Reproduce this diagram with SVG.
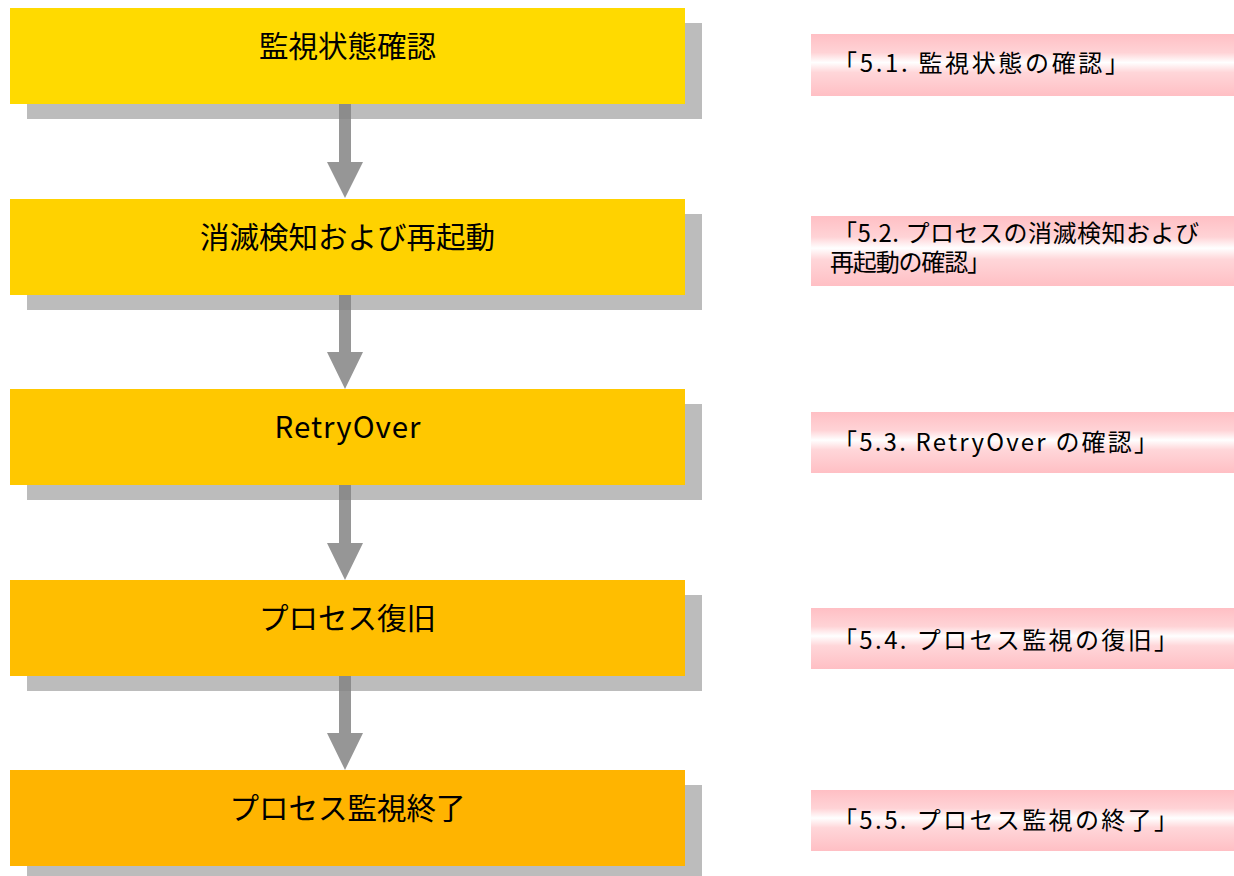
<svg xmlns="http://www.w3.org/2000/svg" width="1234" height="876" viewBox="0 0 1234 876">
<style>
.shadow{fill:#bcbcbc}
.main{font-family:"Noto Sans CJK JP","Noto Sans",sans-serif;font-size:29.5px;fill:#000;text-anchor:middle}
.ref{font-family:"Noto Sans CJK JP","Noto Sans",sans-serif;font-size:24px;fill:#000}
.arrow{fill:#848484;fill-opacity:0.85}
.pink{fill:url(#pinkGrad)}
</style>
<defs>
<linearGradient id="pinkGrad" x1="0" y1="0" x2="0" y2="1">
<stop offset="0" stop-color="#ffbfc4"/>
<stop offset="0.3" stop-color="#ffd3d6"/>
<stop offset="0.46" stop-color="#ffffff"/>
<stop offset="0.62" stop-color="#ffd6d9"/>
<stop offset="1" stop-color="#ffbfc4"/>
</linearGradient>
</defs>
<rect width="1234" height="876" fill="#ffffff"/>
<g id="node1">
<rect class="shadow" x="27" y="23" width="675" height="96"/>
<rect x="10" y="8" width="675" height="96" fill="#ffda00"/>
<text class="main" x="347.5" y="57">監視状態確認</text>
</g>
<g id="node2">
<rect class="shadow" x="27" y="214" width="675" height="96"/>
<rect x="10" y="199" width="675" height="96" fill="#ffd200"/>
<text class="main" x="347.5" y="248">消滅検知および再起動</text>
</g>
<g id="node3">
<rect class="shadow" x="27" y="404" width="675" height="96"/>
<rect x="10" y="389" width="675" height="96" fill="#ffc800"/>
<text class="main" x="347.5" y="438" textLength="146" lengthAdjust="spacing">RetryOver</text>
</g>
<g id="node4">
<rect class="shadow" x="27" y="595" width="675" height="96"/>
<rect x="10" y="580" width="675" height="96" fill="#ffbe00"/>
<text class="main" x="347.5" y="629">プロセス復旧</text>
</g>
<g id="node5">
<rect class="shadow" x="27" y="785" width="675" height="96"/>
<rect x="10" y="770" width="675" height="96" fill="#ffb400"/>
<text class="main" x="347.5" y="819">プロセス監視終了</text>
</g>
<g id="connectors">
<path class="arrow" d="M339,104 H351 V162 H363 L345,198 L327,162 H339 Z"/>
<path class="arrow" d="M339,295 H351 V352 H363 L345,389 L327,352 H339 Z"/>
<path class="arrow" d="M339,485 H351 V543 H363 L345,580 L327,543 H339 Z"/>
<path class="arrow" d="M339,676 H351 V733 H363 L345,770 L327,733 H339 Z"/>
</g>
<g id="ref1">
<rect class="pink" x="811" y="34" width="423" height="62"/>
<text class="ref" x="833" y="72" textLength="296" lengthAdjust="spacing">「5.1. 監視状態の確認」</text>
</g>
<g id="ref2">
<rect class="pink" x="811" y="216" width="423" height="70"/>
<text class="ref"><tspan x="833" y="242" textLength="366" lengthAdjust="spacing">「5.2. プロセスの消滅検知および</tspan><tspan x="830" y="271" textLength="161" lengthAdjust="spacing">再起動の確認」</tspan></text>
</g>
<g id="ref3">
<rect class="pink" x="811" y="412" width="423" height="61"/>
<text class="ref" x="833" y="451" textLength="325" lengthAdjust="spacing">「5.3. RetryOver の確認」</text>
</g>
<g id="ref4">
<rect class="pink" x="811" y="608" width="423" height="61"/>
<text class="ref" x="833" y="649" textLength="345" lengthAdjust="spacing">「5.4. プロセス監視の復旧」</text>
</g>
<g id="ref5">
<rect class="pink" x="811" y="790" width="423" height="61"/>
<text class="ref" x="833" y="829" textLength="345" lengthAdjust="spacing">「5.5. プロセス監視の終了」</text>
</g>
</svg>
